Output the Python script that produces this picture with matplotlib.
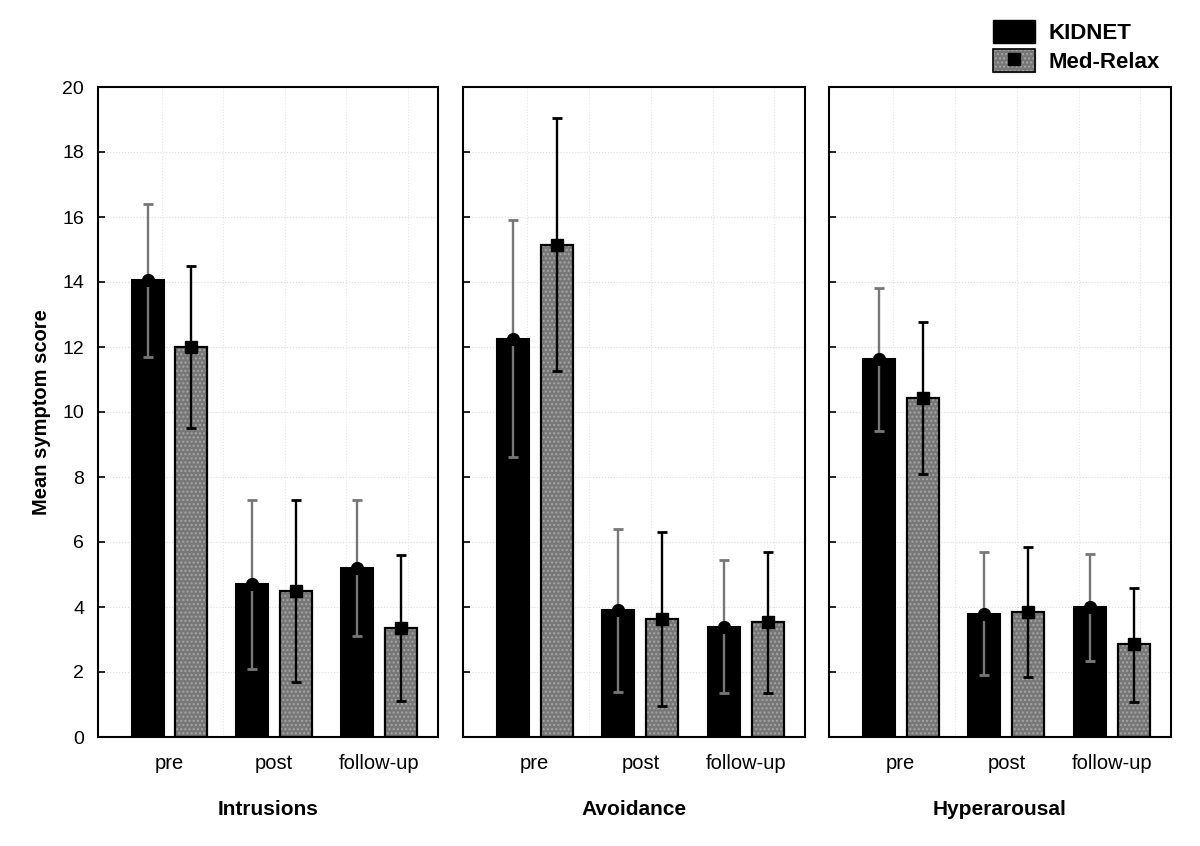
import numpy as np
import matplotlib
matplotlib.use("Agg")
import matplotlib.pyplot as plt
from matplotlib.patches import Patch
from matplotlib.lines import Line2D

plt.rcParams['font.family'] = ['Liberation Sans', 'DejaVu Sans']
plt.rcParams['hatch.linewidth'] = 1.0

# Data
phases = ['pre', 'post', 'follow-up']
scales = ['Intrusions', 'Avoidance', 'Hyperarousal']
groups = ['KIDNET', 'Med-Relax']

kidnet_mean = [[14.05, 4.70, 5.20], [12.25, 3.90, 3.40], [11.62, 3.80, 4.00]]
kidnet_lo = [[11.70, 2.10, 3.10], [8.60, 1.40, 1.35], [9.42, 1.92, 2.33]]
kidnet_hi = [[16.40, 7.30, 7.30], [15.90, 6.40, 5.45], [13.82, 5.68, 5.64]]

med_mean = [[12.00, 4.50, 3.35], [15.15, 3.64, 3.53], [10.42, 3.86, 2.85]]
med_lo = [[9.50, 1.70, 1.10], [11.25, 0.95, 1.34], [8.08, 1.84, 1.08]]
med_hi = [[14.50, 7.30, 5.60], [19.05, 6.30, 5.70], [12.76, 5.86, 4.60]]


def main():
    fig = plt.figure(figsize=(12, 8.46), dpi=100)

    # axes boxes (figure fractions)
    lefts = [98 / 1200, 463 / 1200, 829 / 1200]
    widths = [340 / 1200, 342 / 1200, 342 / 1200]
    bottom = 1 - 737 / 846
    height = (737 - 87) / 846

    x = np.arange(len(phases))
    w = 0.305
    off = 0.208
    gray_face = '#777777'
    dot_color = '#a6a6a6'

    for i, name in enumerate(scales):
        ax = fig.add_axes([lefts[i], bottom, widths[i], height])

        # faint grid
        for yv in range(2, 20, 2):
            ax.axhline(yv, color='#dcdcdc', lw=0.8, ls=':', zorder=0)
        for xv in np.arange(-0.07, 2.5, 0.585):
            ax.axvline(xv, color='#e4e4e4', lw=0.8, ls=':', zorder=0)

        km = np.array(kidnet_mean[i])
        mm = np.array(med_mean[i])

        # KIDNET bars
        ax.bar(x - off, km, width=w, color='black', edgecolor='black',
               lw=1.5, zorder=2)
        # Med-Relax bars: dotted gray fill then black outline
        ax.bar(x + off, mm, width=w, color=gray_face, edgecolor=dot_color,
               hatch='....', lw=0, zorder=2)
        ax.bar(x + off, mm, width=w, fill=False, edgecolor='black',
               lw=1.6, zorder=3)

        # error bars
        k_err = [km - np.array(kidnet_lo[i]), np.array(kidnet_hi[i]) - km]
        m_err = [mm - np.array(med_lo[i]), np.array(med_hi[i]) - mm]
        ax.errorbar(x - off, km, yerr=k_err, fmt='none', ecolor='#777777',
                    elinewidth=1.7, capsize=3.5, capthick=2, zorder=4)
        ax.errorbar(x + off, mm, yerr=m_err, fmt='none', ecolor='black',
                    elinewidth=1.7, capsize=3.5, capthick=2, zorder=4)
        ax.plot(x - off, km, 'o', color='black', ms=8.5, zorder=5)
        ax.plot(x + off, mm, 's', color='black', ms=9, zorder=5)

        ax.set_xlim(-0.68, 2.56)
        ax.set_ylim(0, 20)
        ax.set_yticks(range(0, 21, 2))
        ax.set_xticks(x)
        ax.set_xticklabels(phases, fontsize=14.5)
        ax.tick_params(axis='x', length=0, pad=12)
        ax.tick_params(axis='y', direction='in', length=5, width=1.2,
                       labelsize=14, pad=10)
        if i > 0:
            ax.tick_params(axis='y', labelleft=False)
        else:
            ax.set_ylabel('Mean symptom score', fontsize=14.5,
                          fontweight='bold', labelpad=8)
        for sp in ax.spines.values():
            sp.set_linewidth(1.5)
        ax.set_xlabel(name, fontsize=15, fontweight='bold', labelpad=20)

    handles = [Patch(facecolor='black', edgecolor='black'),
               (Patch(facecolor=gray_face, edgecolor=dot_color, hatch='....'),
                Patch(fill=False, edgecolor='black', lw=1.2),
                Line2D([], [], marker='s', color='black', ls='none', ms=9))]
    fig.legend(handles, groups, loc='upper right',
               bbox_to_anchor=(0.983, 1.0), frameon=False,
               prop={'size': 16, 'weight': 'bold'},
               handlelength=1.9, handleheight=1.2, handletextpad=0.6,
               labelspacing=0.25)

    fig.savefig('out.png', dpi=100)


if __name__ == "__main__":
    main()
